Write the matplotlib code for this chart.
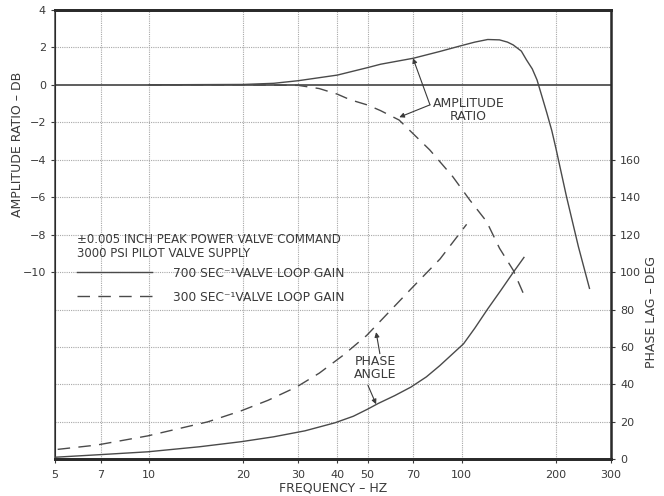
import matplotlib
matplotlib.use("Agg")
import matplotlib.pyplot as plt
from matplotlib.lines import Line2D
from matplotlib.ticker import FixedLocator, NullLocator, FixedFormatter

# Amplitude ratio (dB), 700 1/s valve loop gain
amp700_freq = [10, 20, 25, 30, 40, 50, 55, 70, 85, 99, 110, 121, 132, 140, 146,
               155, 161, 168, 174, 181, 187, 194, 200, 216, 236, 256]
amp700_db = [0, 0.02, 0.08, 0.22, 0.52, 0.92, 1.1, 1.42, 1.78, 2.08, 2.28, 2.42, 2.4,
             2.28, 2.13, 1.8, 1.33, 0.85, 0.26, -0.7, -1.5, -2.45, -3.4, -5.95, -8.65, -10.87]

# Amplitude ratio (dB), 300 1/s valve loop gain
amp300_freq = [10, 20, 30, 35, 40, 44, 50, 55, 63, 79, 93.5, 106, 120, 132, 146, 159]
amp300_db = [0, 0, -0.03, -0.2, -0.5, -0.8, -1.08, -1.38, -1.88, -3.48, -4.9, -6.15,
             -7.3, -8.73, -9.9, -11.32]

# Phase lag (deg), 700 1/s valve loop gain
ph700_freq = [5, 7, 9.9, 14.5, 19.7, 25, 31.5, 39.3, 45, 50, 54, 61, 68.8, 77, 85,
              93, 101.3, 110, 121, 133, 146, 158]
ph700_deg = [1.1, 2.5, 4.0, 6.7, 9.4, 12, 15.2, 19.5, 23, 26.8, 29.8, 34, 38.6, 44,
             50, 56, 61.7, 70, 80.3, 90, 99.8, 107.8]

# Phase lag (deg), 300 1/s valve loop gain
ph300_freq = [5.1, 6.8, 9.9, 15.4, 19.7, 24, 29.6, 35, 41.7, 49.6, 58, 68.8, 85.2, 103.6]
ph300_deg = [5.3, 7.6, 12.5, 20, 25.9, 31.5, 38.6, 46, 55.5, 66.1, 78, 91, 107, 125.5]

freq_ticks = [5, 7, 10, 20, 30, 40, 50, 70, 100, 200, 300]
freq_grid = [7, 10, 20, 30, 40, 50, 70, 100, 200]
db_ticks = [4, 2, 0, -2, -4, -6, -8, -10]
db_tick_labels = ["4", "2", "0", "\u22122", "\u22124", "\u22126", "\u22128", "\u221210"]
deg_ticks = [0, 20, 40, 60, 80, 100, 120, 140, 160]

ink = "#3a3a3a"
curve = "#4a4a4a"
grid = "#a8a8a8"
dash = (0, (9, 6))

plt.rcParams["font.family"] = ["DejaVu Sans"]

fig = plt.figure(figsize=(6.64, 4.96), dpi=100)
ax = fig.add_axes([0.0828, 0.074, 0.8374, 0.906])
ax2 = ax.twinx()

ax.set_xscale("log")
ax.set_xlim(5, 300)
ax.set_ylim(-20, 4)
ax2.set_ylim(0, 240)

# grid
for f in freq_grid:
    ax.axvline(f, color=grid, lw=0.8, ls=(0, (1, 1)), zorder=0)
for y in range(-18, 4, 2):
    if y == 0:
        ax.axhline(0, color="#505050", lw=1.3, zorder=1)
    else:
        ax.axhline(y, color=grid, lw=0.8, ls=(0, (1, 1)), zorder=0)

# curves
ax.plot(amp700_freq, amp700_db, color=curve, lw=1.0, zorder=3)
ax.plot(amp300_freq, amp300_db, color=curve, lw=1.0, ls=dash, zorder=3)
ax2.plot(ph700_freq, ph700_deg, color=curve, lw=1.0, zorder=3)
ax2.plot(ph300_freq, ph300_deg, color=curve, lw=1.0, ls=dash, zorder=3)

# axes styling
ax.xaxis.set_major_locator(FixedLocator(freq_ticks))
ax.xaxis.set_major_formatter(FixedFormatter([str(f) for f in freq_ticks]))
ax.xaxis.set_minor_locator(NullLocator())
ax.set_yticks(db_ticks)
ax.set_yticklabels(db_tick_labels)
ax2.set_yticks(deg_ticks)

for a in (ax, ax2):
    a.tick_params(colors=ink, labelsize=8, length=3, width=0.8)
    for s in a.spines.values():
        s.set_color("#2a2a2a")
ax.tick_params(axis="x", pad=5)
ax.spines["left"].set_linewidth(1.2)
ax.spines["left"].set_color("#555555")
for a in (ax, ax2):
    a.spines["top"].set_linewidth(2.0)
    a.spines["bottom"].set_linewidth(2.0)
ax2.spines["right"].set_linewidth(1.8)

ax.set_xlabel("FREQUENCY \u2013 HZ", fontsize=9, color=ink, labelpad=0.5)
ax.set_ylabel("AMPLITUDE RATIO \u2013 DB", fontsize=9, color=ink)
ax.yaxis.set_label_coords(-0.056, 0.70)
ax2.set_ylabel("PHASE LAG \u2013 DEG", fontsize=9, color=ink)
ax2.yaxis.set_label_coords(1.061, 0.328)

# test condition notes and legend
ax.text(0.040, 0.473, "\u00b10.005 INCH PEAK POWER VALVE COMMAND\n3000 PSI PILOT VALVE SUPPLY",
        transform=ax.transAxes, fontsize=8.5, color=ink, va="center", ha="left",
        linespacing=1.1)
handles = [Line2D([], [], color=curve, lw=1.0),
           Line2D([], [], color=curve, lw=1.0, ls=dash)]
leg = ax.legend(handles, ["700 SEC\u207b\u00b9VALVE LOOP GAIN", "300 SEC\u207b\u00b9VALVE LOOP GAIN"],
                loc="upper left", bbox_to_anchor=(0.040, 0.429), frameon=False,
                fontsize=8.8, handlelength=6.1, handletextpad=1.75, labelspacing=0.9,
                borderaxespad=0, borderpad=0)
for t in leg.get_texts():
    t.set_color(ink)

# callouts
arrow = dict(arrowstyle="-|>", color=ink, lw=0.8, mutation_scale=7, shrinkA=0, shrinkB=0)
ax.text(105, -1.35, "AMPLITUDE\nRATIO", fontsize=9, color=ink, ha="center", va="center",
        linespacing=1.05)
ax.annotate("", xy=(69.8, 1.42), xytext=(79.1, -1.07), arrowprops=arrow)
ax.annotate("", xy=(63.1, -1.73), xytext=(79.1, -1.07), arrowprops=arrow)

ax2.text(52.9, 48.9, "PHASE\nANGLE", fontsize=9, color=ink, ha="center", va="center",
         linespacing=1.0)
ax2.annotate("", xy=(53.2, 67.9), xytext=(54.7, 56.4), arrowprops=arrow)
ax2.annotate("", xy=(53.2, 29.4), xytext=(50.1, 39.5), arrowprops=arrow)

fig.savefig("out.png", dpi=100, facecolor="white")
